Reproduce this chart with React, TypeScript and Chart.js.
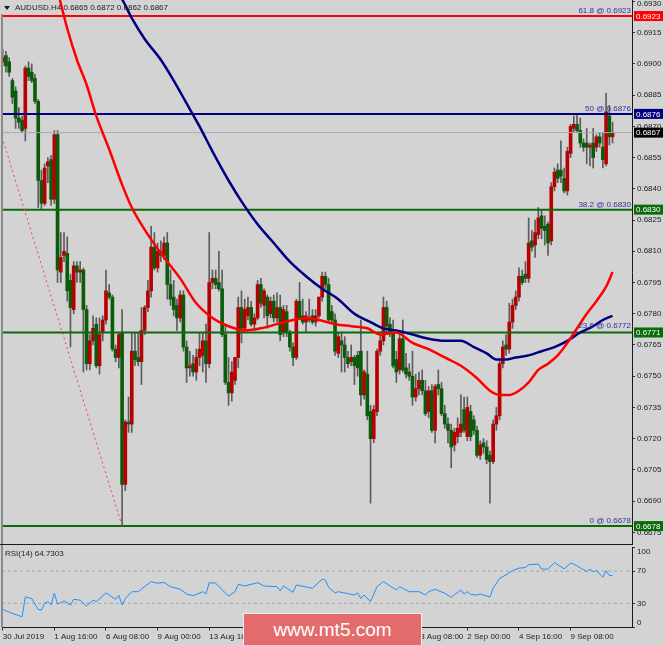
import React, { useEffect, useRef } from 'react';
import { Chart, registerables } from 'chart.js';

Chart.register(...registerables);

const FONT = '"Liberation Sans", Arial, sans-serif';
const BG = '#d3d3d3';

const symbolName = 'AUDUSD.H4';

// H4 candles, bar 0 = 30 Jul 2019 00:00
const opens = [
  0.6901, 0.6904, 0.6901, 0.6892, 0.6887, 0.6874, 0.6873, 0.6869, 0.6898, 0.6896,
  0.6893, 0.6882, 0.6844, 0.6833, 0.6851, 0.6854, 0.6835, 0.6866, 0.6800, 0.6808,
  0.6809, 0.6796, 0.6782, 0.6803, 0.6800, 0.6801, 0.6782, 0.6756, 0.6767, 0.6775,
  0.6755, 0.6771, 0.6777, 0.6790, 0.6788, 0.6763, 0.6759, 0.6771, 0.6698, 0.6728,
  0.6727, 0.6762, 0.6759, 0.6757, 0.6772, 0.6783, 0.6791, 0.6812, 0.6802, 0.6810,
  0.6808, 0.6814, 0.6794, 0.6788, 0.6784, 0.6778, 0.6789, 0.6764, 0.6754, 0.6756,
  0.6752, 0.6759, 0.6760, 0.6767, 0.6756, 0.6795, 0.6797, 0.6795, 0.6792, 0.6770,
  0.6747, 0.6742, 0.6748, 0.6759, 0.6783, 0.6773, 0.6779, 0.6783, 0.6775, 0.6778,
  0.6794, 0.6784, 0.6788, 0.6780, 0.6786, 0.6778, 0.6783, 0.6771, 0.6781, 0.6771,
  0.6764, 0.6759, 0.6786, 0.6779, 0.6776, 0.6778, 0.6779, 0.6776, 0.6779, 0.6788,
  0.6798, 0.6794, 0.6781, 0.6777, 0.6761, 0.6767, 0.6765, 0.6759, 0.6757, 0.6759,
  0.6760, 0.6762, 0.6741, 0.6751, 0.6733, 0.6720, 0.6733, 0.6762, 0.6767, 0.6783,
  0.6775, 0.6771, 0.6758, 0.6753, 0.6768, 0.6754, 0.6752, 0.6750, 0.6740, 0.6744,
  0.6748, 0.6743, 0.6733, 0.6743, 0.6724, 0.6746, 0.6744, 0.6732, 0.6727, 0.6724,
  0.6717, 0.6721, 0.6723, 0.6734, 0.6721, 0.6733, 0.6729, 0.6724, 0.6712, 0.6718,
  0.6716, 0.6712, 0.6709, 0.6727, 0.6731, 0.6756, 0.6765, 0.6763, 0.6776, 0.6784,
  0.6788, 0.6798, 0.6799, 0.6797, 0.6815, 0.6813, 0.6818, 0.6827, 0.6822, 0.6823,
  0.6815, 0.6841, 0.6849, 0.6849, 0.6845, 0.6839, 0.6857, 0.6869, 0.6871, 0.6868,
  0.6862, 0.6862, 0.6860, 0.6862, 0.6860, 0.6865, 0.6860, 0.6852, 0.6875, 0.6865,
];
const highs = [
  0.6907, 0.6906, 0.6903, 0.6893, 0.6889, 0.6879, 0.6875, 0.6899, 0.6901, 0.6900,
  0.6895, 0.6883, 0.6849, 0.6852, 0.6855, 0.6856, 0.6868, 0.6868, 0.6819, 0.6819,
  0.6817, 0.6799, 0.6805, 0.6805, 0.6805, 0.6802, 0.6784, 0.6770, 0.6779, 0.6778,
  0.6778, 0.6779, 0.6801, 0.6794, 0.6789, 0.6765, 0.6771, 0.6782, 0.6729, 0.6740,
  0.6771, 0.6771, 0.6771, 0.6783, 0.6784, 0.6796, 0.6822, 0.6819, 0.6814, 0.6815,
  0.6817, 0.6819, 0.6801, 0.6796, 0.6787, 0.6791, 0.6791, 0.6767, 0.6762, 0.6760,
  0.6763, 0.6771, 0.6771, 0.6775, 0.6819, 0.6801, 0.6801, 0.6810, 0.6801, 0.6774,
  0.6759, 0.6757, 0.6759, 0.6788, 0.6791, 0.6787, 0.6788, 0.6786, 0.6780, 0.6796,
  0.6797, 0.6792, 0.6789, 0.6788, 0.6789, 0.6790, 0.6789, 0.6784, 0.6784, 0.6772,
  0.6766, 0.6787, 0.6795, 0.6787, 0.6781, 0.6787, 0.6782, 0.6782, 0.6788, 0.6800,
  0.6800, 0.6797, 0.6784, 0.6780, 0.6771, 0.6771, 0.6769, 0.6762, 0.6765, 0.6760,
  0.6762, 0.6777, 0.6753, 0.6762, 0.6736, 0.6736, 0.6763, 0.6770, 0.6788, 0.6786,
  0.6778, 0.6777, 0.6762, 0.6771, 0.6777, 0.6761, 0.6756, 0.6762, 0.6751, 0.6752,
  0.6753, 0.6748, 0.6745, 0.6746, 0.6746, 0.6753, 0.6747, 0.6736, 0.6730, 0.6727,
  0.6725, 0.6730, 0.6741, 0.6740, 0.6740, 0.6736, 0.6731, 0.6726, 0.6719, 0.6720,
  0.6719, 0.6714, 0.6729, 0.6735, 0.6758, 0.6767, 0.6770, 0.6785, 0.6787, 0.6791,
  0.6802, 0.6801, 0.6805, 0.6826, 0.6820, 0.6825, 0.6831, 0.6830, 0.6827, 0.6824,
  0.6843, 0.6850, 0.6852, 0.6863, 0.6850, 0.6860, 0.6871, 0.6875, 0.6876, 0.6874,
  0.6864, 0.6869, 0.6862, 0.6869, 0.6866, 0.6867, 0.6867, 0.6886, 0.6880, 0.6872,
];
const lows = [
  0.6899, 0.6896, 0.6894, 0.6881, 0.6869, 0.6869, 0.6867, 0.6863, 0.6892, 0.6891,
  0.6881, 0.6831, 0.6830, 0.6832, 0.6843, 0.6832, 0.6833, 0.6795, 0.6795, 0.6805,
  0.6786, 0.6764, 0.6780, 0.6795, 0.6795, 0.6752, 0.6753, 0.6753, 0.6765, 0.6754,
  0.6751, 0.6767, 0.6775, 0.6787, 0.6762, 0.6757, 0.6754, 0.6678, 0.6695, 0.6723,
  0.6723, 0.6755, 0.6755, 0.6746, 0.6770, 0.6781, 0.6788, 0.6801, 0.6800, 0.6805,
  0.6806, 0.6787, 0.6784, 0.6779, 0.6772, 0.6776, 0.6762, 0.6747, 0.6750, 0.6750,
  0.6748, 0.6755, 0.6752, 0.6747, 0.6754, 0.6792, 0.6792, 0.6791, 0.6769, 0.6746,
  0.6736, 0.6738, 0.6746, 0.6754, 0.6766, 0.6771, 0.6777, 0.6774, 0.6772, 0.6777,
  0.6783, 0.6778, 0.6773, 0.6778, 0.6776, 0.6776, 0.6767, 0.6769, 0.6769, 0.6762,
  0.6755, 0.6758, 0.6777, 0.6775, 0.6771, 0.6776, 0.6775, 0.6774, 0.6778, 0.6786,
  0.6792, 0.6776, 0.6776, 0.6760, 0.6759, 0.6752, 0.6752, 0.6754, 0.6755, 0.6746,
  0.6750, 0.6736, 0.6739, 0.6729, 0.6689, 0.6718, 0.6731, 0.6760, 0.6765, 0.6771,
  0.6769, 0.6754, 0.6747, 0.6751, 0.6752, 0.6749, 0.6748, 0.6736, 0.6738, 0.6741,
  0.6741, 0.6731, 0.6730, 0.6723, 0.6718, 0.6741, 0.6731, 0.6725, 0.6718, 0.6706,
  0.6714, 0.6718, 0.6721, 0.6723, 0.6719, 0.6719, 0.6722, 0.6711, 0.6710, 0.6713,
  0.6708, 0.6689, 0.6708, 0.6724, 0.6729, 0.6754, 0.6760, 0.6761, 0.6773, 0.6782,
  0.6786, 0.6794, 0.6795, 0.6795, 0.6810, 0.6807, 0.6816, 0.6816, 0.6813, 0.6808,
  0.6813, 0.6839, 0.6843, 0.6843, 0.6838, 0.6837, 0.6855, 0.6867, 0.6867, 0.6860,
  0.6858, 0.6852, 0.6851, 0.6850, 0.6858, 0.6860, 0.6850, 0.6851, 0.6861, 0.6862,
];
const closes = [
  0.6903, 0.6899, 0.6896, 0.6884, 0.6874, 0.6872, 0.6868, 0.6898, 0.6894, 0.6892,
  0.6882, 0.6844, 0.6833, 0.6850, 0.6853, 0.6835, 0.6866, 0.6801, 0.6807, 0.6810,
  0.6791, 0.6783, 0.6803, 0.6800, 0.6801, 0.6782, 0.6756, 0.6767, 0.6773, 0.6755,
  0.6770, 0.6777, 0.6791, 0.6788, 0.6763, 0.6759, 0.6770, 0.6698, 0.6728, 0.6727,
  0.6762, 0.6758, 0.6757, 0.6772, 0.6783, 0.6791, 0.6812, 0.6802, 0.6810, 0.6808,
  0.6814, 0.6794, 0.6787, 0.6782, 0.6778, 0.6789, 0.6764, 0.6754, 0.6755, 0.6752,
  0.6759, 0.6763, 0.6767, 0.6756, 0.6795, 0.6797, 0.6794, 0.6792, 0.6770, 0.6747,
  0.6742, 0.6752, 0.6759, 0.6783, 0.6773, 0.6782, 0.6783, 0.6775, 0.6778, 0.6794,
  0.6785, 0.6791, 0.6779, 0.6786, 0.6778, 0.6783, 0.6770, 0.6782, 0.6771, 0.6764,
  0.6759, 0.6786, 0.6778, 0.6776, 0.6779, 0.6777, 0.6776, 0.6779, 0.6788, 0.6798,
  0.6794, 0.6777, 0.6777, 0.6762, 0.6769, 0.6765, 0.6759, 0.6756, 0.6759, 0.6755,
  0.6754, 0.6741, 0.6752, 0.6731, 0.6720, 0.6734, 0.6762, 0.6767, 0.6783, 0.6774,
  0.6771, 0.6755, 0.6752, 0.6768, 0.6753, 0.6751, 0.6750, 0.6740, 0.6744, 0.6748,
  0.6743, 0.6732, 0.6743, 0.6724, 0.6745, 0.6744, 0.6732, 0.6727, 0.6724, 0.6716,
  0.6723, 0.6725, 0.6727, 0.6724, 0.6735, 0.6721, 0.6724, 0.6712, 0.6717, 0.6716,
  0.6710, 0.6709, 0.6727, 0.6731, 0.6756, 0.6764, 0.6763, 0.6776, 0.6784, 0.6788,
  0.6798, 0.6795, 0.6797, 0.6814, 0.6812, 0.6819, 0.6826, 0.6821, 0.6820, 0.6814,
  0.6841, 0.6848, 0.6845, 0.6846, 0.6839, 0.6858, 0.6870, 0.6871, 0.6868, 0.6862,
  0.6860, 0.6860, 0.6861, 0.6855, 0.6865, 0.6862, 0.6854, 0.6877, 0.6865, 0.6867,
];

const yTicks = [
  0.6675, 0.669, 0.6705, 0.672, 0.6735, 0.675, 0.6765, 0.678, 0.6795,
  0.681, 0.6825, 0.684, 0.6855, 0.687, 0.6885, 0.69, 0.6915, 0.693,
];
const yTopTick = 0.693;

const xTickBars = [0, 16, 32, 48, 64, 80, 96, 112, 128, 144, 160, 176];
const xTickLabels = [
  '30 Jul 2019', '1 Aug 16:00', '6 Aug 08:00', '9 Aug 00:00', '13 Aug 16:00', '16 Aug 08:00',
  '21 Aug 00:00', '23 Aug 16:00', '28 Aug 08:00', '2 Sep 00:00', '4 Sep 16:00', '9 Sep 08:00',
];

const maRedBars = [17, 18, 20, 23, 26, 29, 33, 37, 40, 45, 50, 55, 60, 65, 70, 75, 80, 85, 90, 94, 98, 103, 108, 113, 117, 122, 127, 132, 137, 142, 147, 151, 154, 157, 160, 163, 166, 169, 172, 175, 178, 181, 184, 187, 189];
const maRedValues = [0.6935, 0.6929, 0.6917, 0.6902, 0.6890, 0.6875, 0.6859, 0.6842, 0.6831, 0.6818, 0.6807, 0.6797, 0.6785, 0.6778, 0.6774, 0.6772, 0.6773, 0.6775, 0.6777, 0.6778, 0.6777, 0.6775, 0.6774, 0.6773, 0.6770, 0.6771, 0.6766, 0.6763, 0.6759, 0.6755, 0.6749, 0.6743, 0.6741, 0.6741, 0.6743, 0.6747, 0.6753, 0.6756, 0.6760, 0.6766, 0.6773, 0.6780, 0.6786, 0.6793, 0.6800];

const maBlueBars = [35, 37, 40, 44, 49, 53, 57, 61, 65, 70, 74, 79, 84, 89, 94, 99, 104, 109, 114, 118, 122, 127, 132, 137, 142, 146, 150, 153, 156, 159, 163, 167, 171, 175, 179, 183, 186, 189];
const maBlueValues = [0.6935, 0.6931, 0.6922, 0.6912, 0.6902, 0.6892, 0.6881, 0.6870, 0.6858, 0.6844, 0.6834, 0.6823, 0.6814, 0.6805, 0.6798, 0.6792, 0.6787, 0.6780, 0.6776, 0.6773, 0.6772, 0.6770, 0.6768, 0.6767, 0.6767, 0.6764, 0.6761, 0.6758, 0.6758, 0.6759, 0.6760, 0.6762, 0.6764, 0.6767, 0.6771, 0.6774, 0.6777, 0.6779];

const hLinePrices = [0.6923, 0.6876, 0.6867, 0.683, 0.6771, 0.6678];
const hLineColors = ['#ff0000', '#000080', '#a2aaba', '#0b6b0b', '#0b6b0b', '#0b6b0b'];
const hLineWidths = [2, 2, 1, 2, 2, 2];
const hLineBoxColors = ['#ff0000', '#000080', '#000000', '#0b6b0b', '#0b6b0b', '#0b6b0b'];

const fibNames = ['61.8', '50', '38.2', '23.6', '0'];
const fibPrices = [0.6923, 0.6876, 0.683, 0.6772, 0.6678];
const fibTrendBars = [-0.25, 37];
const fibTrendPrices = [0.6865, 0.6678];

const rsiLabel = 'RSI(14) 64.7303';
const rsiLevels = [70, 30];
const rsiBars = [0, 3, 6, 7, 9, 11, 12, 13, 14, 15, 16, 17, 19, 21, 22, 24, 26, 28, 29, 32, 35, 36, 37, 38, 40, 42, 46, 48, 50, 52, 55, 57, 59, 62, 63, 64, 66, 70, 72, 73, 75, 79, 81, 85, 86, 87, 90, 91, 96, 99, 100, 101, 103, 104, 109, 110, 111, 112, 114, 116, 118, 122, 123, 126, 129, 131, 132, 134, 137, 139, 142, 143, 144, 145, 147, 148, 151, 152, 154, 156, 158, 160, 162, 163, 166, 167, 169, 171, 174, 176, 177, 181, 182, 183, 184, 186, 187, 188, 189];
const rsiValues = [22.5, 17.5, 13.3, 38, 36, 22.5, 21.6, 30, 32, 28, 42.5, 29, 33, 28, 35, 34, 26.6, 34, 32, 43, 35, 40, 28, 36, 44.5, 44.5, 57, 55, 56, 50.7, 47.5, 41.6, 39.5, 44.5, 41.6, 55.7, 55, 39, 44.5, 53.7, 51.6, 55.7, 51.6, 50.7, 45.7, 51.6, 43.7, 52.9, 48.7, 60, 59, 50, 43, 44.5, 40.4, 43, 36, 40.4, 32, 50.7, 57, 46.6, 50.7, 44.5, 44.5, 40.4, 44.5, 47.5, 42.5, 37.5, 46.6, 41.6, 44.5, 41, 40.4, 41.6, 38, 48.7, 61, 65.4, 70.7, 73.7, 74.5, 78, 78.7, 72.5, 72.5, 80.7, 72.9, 80, 78.7, 69.5, 72.5, 69.5, 70.5, 62.5, 70.4, 64.5, 64.73];

const X_MIN = -0.22;
const X_MAX = 195.03;
const P_MIN = 0.66694;
const P_MAX = 0.69307;

const tickFont = { family: FONT, size: 8 };

const mainOverlay = {
  id: 'mainOverlay',
  afterDraw(chart: any) {
    const { ctx, chartArea } = chart;
    const ys = chart.scales.y;
    ctx.save();
    ctx.fillStyle = '#8a8a8a';
    ctx.fillRect(1, 14, 2, chart.height - 14);
    ctx.fillStyle = '#1a1a1a';
    ctx.fillRect(0, Math.round(chartArea.bottom), Math.round(chartArea.right) + 1, 1);
    ctx.font = `8px ${FONT}`;
    ctx.textAlign = 'right';
    ctx.textBaseline = 'bottom';
    ctx.fillStyle = '#2f2f9f';
    fibNames.forEach((n, i) => {
      const py = ys.getPixelForValue(fibPrices[i]);
      ctx.fillText(`${n} @ ${fibPrices[i].toFixed(4)}`, chartArea.right - 1, py - 1);
    });
    ctx.textAlign = 'left';
    ctx.textBaseline = 'middle';
    ctx.fillStyle = '#222';
    ctx.fillText(yTopTick.toFixed(4), chartArea.right + 5, Math.max(ys.getPixelForValue(yTopTick), 4));
    hLinePrices.forEach((p, i) => {
      const py = ys.getPixelForValue(p);
      ctx.fillStyle = hLineBoxColors[i];
      ctx.fillRect(chartArea.right + 2, py - 5, 29, 10);
      ctx.fillStyle = '#ffffff';
      ctx.fillText(p.toFixed(4), chartArea.right + 4, py + 0.5);
    });
    ctx.fillStyle = '#1a1a1a';
    ctx.beginPath();
    ctx.moveTo(4, 6);
    ctx.lineTo(10, 6);
    ctx.lineTo(7, 10);
    ctx.closePath();
    ctx.fill();
    const n = closes.length - 1;
    ctx.fillText(
      `${symbolName} ${opens[n].toFixed(4)} ${highs[n].toFixed(4)} ${lows[n].toFixed(4)} ${closes[n].toFixed(4)}`,
      15, 8,
    );
    ctx.restore();
  },
};

const rsiOverlay = {
  id: 'rsiOverlay',
  afterDraw(chart: any) {
    const { ctx, chartArea } = chart;
    ctx.save();
    ctx.fillStyle = '#8a8a8a';
    ctx.fillRect(1, 0, 2, chartArea.bottom);
    ctx.font = `8px ${FONT}`;
    ctx.fillStyle = '#222';
    ctx.textAlign = 'left';
    ctx.textBaseline = 'middle';
    ctx.fillText(rsiLabel, 5, 9);
    ctx.fillText('100', chartArea.right + 5, 7);
    ctx.fillText('0', chartArea.right + 5, 78);
    ctx.restore();
  },
};

function mainConfig(): any {
  const wickData = opens.map((_, i) => ({ x: i, y: [lows[i], highs[i]] }));
  const bodyData = opens.map((o, i) => ({ x: i, y: [o, closes[i]] }));
  const bodyColors = opens.map((o, i) => (closes[i] >= o ? '#b80000' : '#0a5c0a'));
  return {
    type: 'bar',
    data: {
      datasets: [
        {
          type: 'line',
          data: fibTrendBars.map((b, i) => ({ x: b, y: fibTrendPrices[i] })),
          borderColor: '#ff3a3a', borderWidth: 1, borderDash: [2, 3], pointRadius: 0, order: 1,
        },
        {
          type: 'line',
          data: maRedBars.map((b, i) => ({ x: b, y: maRedValues[i] })),
          borderColor: '#ff0000', borderWidth: 2.5, pointRadius: 0, cubicInterpolationMode: 'monotone', order: 2,
        },
        {
          type: 'line',
          data: maBlueBars.map((b, i) => ({ x: b, y: maBlueValues[i] })),
          borderColor: '#000080', borderWidth: 2.5, pointRadius: 0, cubicInterpolationMode: 'monotone', order: 2,
        },
        ...hLinePrices.map((p, i) => ({
          type: 'line',
          data: [{ x: X_MIN, y: p }, { x: X_MAX, y: p }],
          borderColor: hLineColors[i], borderWidth: hLineWidths[i], pointRadius: 0, order: 3,
        })),
        {
          type: 'bar', data: bodyData, backgroundColor: bodyColors, barThickness: 3,
          grouped: false, minBarLength: 1, order: 4,
        },
        {
          type: 'bar', data: wickData, backgroundColor: '#5c5c5c', barThickness: 1,
          grouped: false, order: 5,
        },
      ],
    },
    options: {
      animation: false,
      responsive: false,
      maintainAspectRatio: false,
      layout: { padding: { left: 2, top: 0, right: 0, bottom: 1 } },
      plugins: { legend: { display: false }, tooltip: { enabled: false }, title: { display: false } },
      scales: {
        x: { type: 'linear', display: false, min: X_MIN, max: X_MAX, offset: false },
        y: {
          type: 'linear', position: 'right', min: P_MIN, max: P_MAX,
          afterBuildTicks: (s: any) => { s.ticks = yTicks.map((v) => ({ value: v })); },
          afterFit: (s: any) => { s.width = 33; s.paddingTop = 0; s.paddingBottom = 0; },
          grid: { drawOnChartArea: false, drawTicks: true, tickLength: 3, color: '#333' },
          border: { display: true, color: '#1a1a1a', width: 1 },
          ticks: {
            font: tickFont, color: '#222', padding: 2,
            callback: (v: any) => (Math.abs(v - yTopTick) < 1e-7 ? '' : Number(v).toFixed(4)),
          },
        },
      },
    },
    plugins: [mainOverlay],
  };
}

function rsiConfig(): any {
  return {
    type: 'line',
    data: {
      datasets: [
        {
          data: rsiBars.map((b, i) => ({ x: b, y: rsiValues[i] })),
          borderColor: '#1e90ff', borderWidth: 1, pointRadius: 0, tension: 0, order: 1,
        },
        ...rsiLevels.map((l) => ({
          data: [{ x: X_MIN, y: l }, { x: X_MAX, y: l }],
          borderColor: '#a6a6a6', borderWidth: 1, borderDash: [3, 3], pointRadius: 0, order: 2,
        })),
      ],
    },
    options: {
      animation: false,
      responsive: false,
      maintainAspectRatio: false,
      layout: { padding: { left: 2, top: 2, right: 0, bottom: 0 } },
      plugins: { legend: { display: false }, tooltip: { enabled: false } },
      scales: {
        x: {
          type: 'linear', min: X_MIN, max: X_MAX, offset: false,
          afterBuildTicks: (s: any) => { s.ticks = xTickBars.map((v) => ({ value: v })); },
          afterFit: (s: any) => { s.height = 17.5; s.paddingLeft = 0; s.paddingRight = 0; },
          grid: { drawOnChartArea: false, drawTicks: true, tickLength: 3, color: '#333' },
          border: { display: true, color: '#1a1a1a', width: 1 },
          ticks: {
            autoSkip: false, maxRotation: 0, minRotation: 0, align: 'start', padding: 1,
            font: tickFont, color: '#222',
            callback: (v: any) => {
              const k = xTickBars.indexOf(Number(v));
              return k >= 0 ? xTickLabels[k] : '';
            },
          },
        },
        y: {
          type: 'linear', position: 'right', min: 0, max: 100,
          afterBuildTicks: (s: any) => { s.ticks = [0, 30, 70, 100].map((v) => ({ value: v })); },
          afterFit: (s: any) => { s.width = 33; s.paddingTop = 0; s.paddingBottom = 0; },
          grid: { drawOnChartArea: false, drawTicks: true, tickLength: 3, color: '#333' },
          border: { display: true, color: '#1a1a1a', width: 1 },
          ticks: {
            font: tickFont, color: '#222', padding: 2,
            callback: (v: any) => (v === 30 || v === 70 ? String(v) : ''),
          },
        },
      },
    },
    plugins: [rsiOverlay],
  };
}

export default function App() {
  const mainRef = useRef<HTMLCanvasElement>(null);
  const rsiRef = useRef<HTMLCanvasElement>(null);

  useEffect(() => {
    document.body.style.margin = '0';
    document.body.style.background = BG;
    const main = new Chart(mainRef.current as HTMLCanvasElement, mainConfig());
    const rsi = new Chart(rsiRef.current as HTMLCanvasElement, rsiConfig());
    return () => {
      main.destroy();
      rsi.destroy();
    };
  }, []);

  return (
    <div style={{ position: 'fixed', left: 0, top: 0, width: 665, height: 645, background: BG, overflow: 'hidden' }}>
      <canvas ref={mainRef} width={665} height={545}
        style={{ position: 'absolute', left: 0, top: 0, width: 665, height: 545 }} />
      <canvas ref={rsiRef} width={665} height={100}
        style={{ position: 'absolute', left: 0, top: 545, width: 665, height: 100 }} />
      <div style={{
        position: 'absolute', left: 243, top: 613, width: 177, height: 32, boxSizing: 'content-box',
        background: '#e46b6b', borderTop: '1px solid #f4eded', borderLeft: '1px solid #f4eded',
        borderRight: '1px solid #f4eded', color: '#ffffff', font: `19px ${FONT}`,
        display: 'flex', alignItems: 'center', justifyContent: 'center',
      }}>www.mt5.com</div>
    </div>
  );
}
